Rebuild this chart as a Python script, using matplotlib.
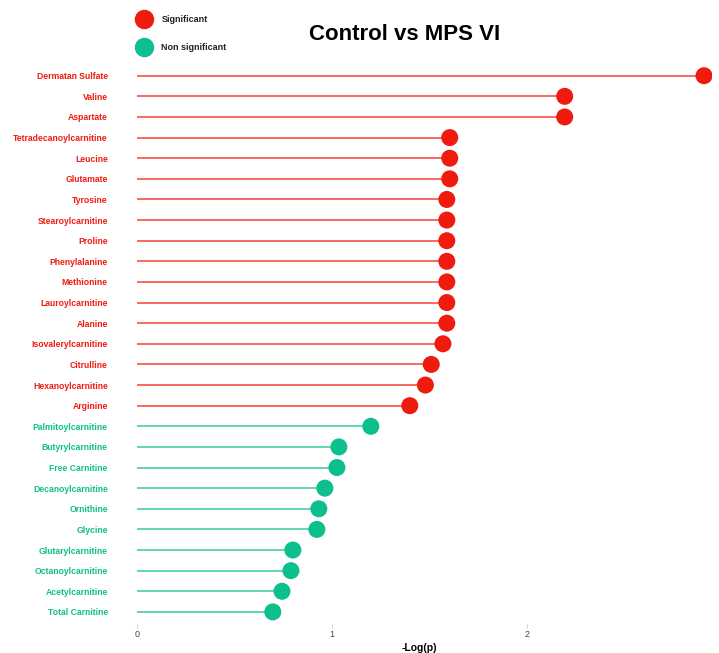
import numpy as np
import matplotlib.pyplot as plt
from matplotlib.lines import Line2D

plt.rcParams['font.family'] = ['Liberation Sans', 'DejaVu Sans']

# Metabolites, top to bottom
metabolites = [
    'Dermatan Sulfate', 'Valine', 'Aspartate', 'Tetradecanoylcarnitine', 'Leucine',
    'Glutamate', 'Tyrosine', 'Stearoylcarnitine', 'Proline', 'Phenylalanine',
    'Methionine', 'Lauroylcarnitine', 'Alanine', 'Isovalerylcarnitine', 'Citrulline',
    'Hexanoylcarnitine', 'Arginine', 'Palmitoylcarnitine', 'Butyrylcarnitine',
    'Free Carnitine', 'Decanoylcarnitine', 'Ornithine', 'Glycine',
    'Glutarylcarnitine', 'Octanoylcarnitine', 'Acetylcarnitine', 'Total Carnitine'
]

# -Log(p) values
neg_log_p = np.array([
    2.91, 2.195, 2.195, 1.605, 1.605,
    1.605, 1.59, 1.59, 1.59, 1.59,
    1.59, 1.59, 1.59, 1.57, 1.51,
    1.48, 1.40, 1.20, 1.036,
    1.026, 0.964, 0.933, 0.923,
    0.80, 0.79, 0.744, 0.697
])

significant = np.array([True] * 17 + [False] * 10)

RED = '#EF1B0F'
GREEN = '#0DBF8C'

fig = plt.figure(figsize=(7.19, 6.53), dpi=100)
ax = fig.add_axes([0.177, 0.044, 0.813, 0.859])

y = np.arange(len(metabolites))[::-1]
colors = np.where(significant, RED, GREEN)

# stems
ax.hlines(y, 0, neg_log_p, colors=colors, linewidth=1.3, alpha=0.7)
# heads
ax.scatter(neg_log_p, y, s=150, c=colors, zorder=3, linewidths=0)

ax.set_xlim(-0.05, 2.95)
ax.set_ylim(-0.6, len(metabolites) - 0.4)

ax.set_yticks(y)
ax.set_yticklabels(metabolites, fontsize=6.2, fontweight='bold')
for lbl, c in zip(ax.get_yticklabels(), colors):
    lbl.set_color(c)
ax.tick_params(axis='y', length=0, pad=14)

ax.set_xticks([0, 1, 2])
ax.tick_params(axis='x', length=3, width=0.6, color='#cccccc', labelsize=6.5,
               labelcolor='#444444', pad=1)
ax.set_xlabel('-Log(p)', fontsize=7.5, fontweight='bold', labelpad=3)

for s in ax.spines.values():
    s.set_visible(False)

fig.text(0.562, 0.947, 'Control vs MPS VI', fontsize=16, fontweight='bold',
         ha='center', va='center')

# Legend
handles = [
    Line2D([], [], marker='o', linestyle='', markersize=13, color=RED, label='Significant'),
    Line2D([], [], marker='o', linestyle='', markersize=13, color=GREEN, label='Non significant'),
]
leg = fig.legend(handles=handles, loc='upper left', bbox_to_anchor=(0.183, 0.983),
                 frameon=False, fontsize=6.5, labelspacing=2.1, handletextpad=0.9,
                 borderaxespad=0)
for t in leg.get_texts():
    t.set_fontweight('bold')
    t.set_color('#222222')

plt.savefig('out.png', dpi=100)
